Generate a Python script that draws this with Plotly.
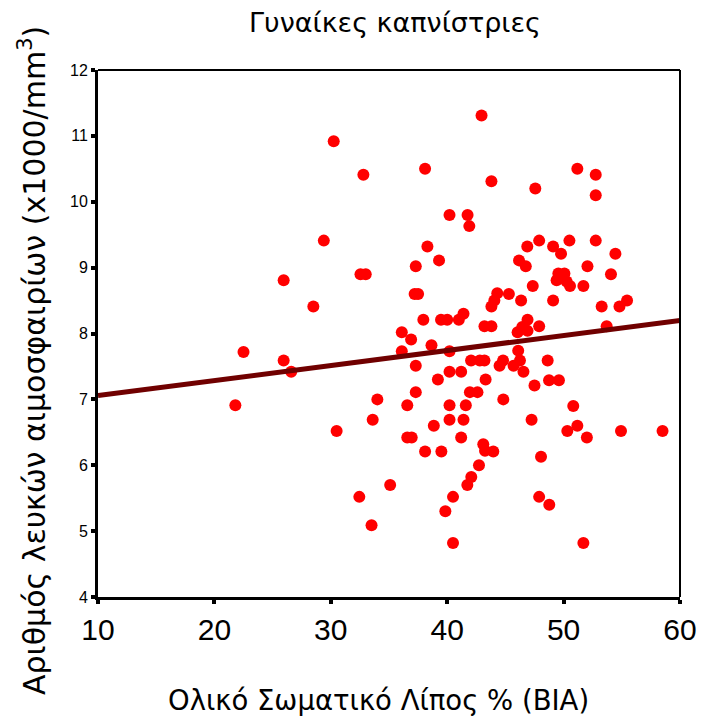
import numpy as np
import plotly.graph_objects as go

# Total body fat % (BIA) for each participant
body_fat = [
    21.8, 22.5, 25.95, 25.95, 26.6, 28.5, 29.4, 30.25, 30.5, 32.55,
    33.0, 32.8, 32.45, 33.5, 33.6, 34.0, 35.1,
    36.1, 36.9, 36.1, 37.3, 37.3, 36.57, 36.57, 36.95, 37.3, 37.2,
    37.5, 37.95, 38.1, 38.3, 38.65, 38.85, 38.1, 39.3, 39.47, 39.5,
    39.2, 39.84, 40.0,
    40.2, 40.2, 40.2, 40.2, 40.2, 40.5, 40.5, 41.0, 41.4, 41.75,
    41.9, 41.2, 41.6, 41.4, 41.2, 41.95, 42.6, 42.05, 42.8, 43.2,
    42.07, 41.73, 42.73, 42.95, 43.2, 43.8, 43.8, 43.8, 44.05, 44.3,
    43.3, 43.1, 43.25, 43.96, 44.8, 44.5, 44.82,
    45.3, 45.7, 46.1, 46.25, 46.55, 46.35, 46.17, 46.75, 46.88, 46.9,
    46.45, 46.9, 46.05, 47.35, 47.57, 47.9, 47.9, 47.5, 47.25, 47.9,
    48.06, 48.63, 48.75, 49.6, 48.77, 49.1, 49.78, 49.55, 49.4, 49.1,
    50.07, 50.26, 50.55, 50.5, 50.83, 50.32, 51.18, 51.18, 51.7, 51.7,
    52.0, 52.05, 52.76, 52.76, 52.76, 53.27, 53.7, 54.07, 54.45, 54.8,
    55.45, 54.93, 58.5,
]

# White blood cell count (x1000/mm3) for the same participants
wbc = [
    6.91, 7.72, 8.81, 7.59, 7.42, 8.41, 9.41, 10.92, 6.52, 8.90,
    8.90, 10.41, 5.52, 5.09, 6.69, 7.00, 5.70,
    8.02, 7.91, 7.73, 7.51, 7.11, 6.91, 6.42, 6.42, 9.02, 8.60,
    8.60, 8.21, 10.50, 9.32, 7.82, 6.60, 6.21, 9.11, 8.21, 6.21,
    7.30, 5.30, 8.21,
    9.80, 7.73, 7.42, 6.91, 6.69, 5.52, 4.82, 8.21, 8.30, 9.80,
    9.63, 7.42, 6.91, 6.69, 6.42, 7.11, 7.11, 7.59, 7.59, 7.59,
    5.82, 5.70, 6.00, 11.31, 8.11, 8.11, 10.31, 8.41, 8.50, 8.61,
    7.30, 6.32, 6.22, 6.21, 7.59, 7.51, 7.00,
    8.60, 7.51, 7.74, 7.59, 7.42, 8.50, 9.11, 9.02, 9.32, 8.21,
    8.10, 8.04, 8.02, 8.72, 10.20, 9.41, 8.11, 7.21, 6.69, 5.52,
    6.13, 7.59, 7.29, 7.29, 5.40, 9.32, 9.21, 8.91, 8.81, 8.50,
    8.91, 8.79, 8.72, 9.41, 6.90, 6.52, 6.60, 10.50, 8.72, 4.82,
    6.42, 9.02, 10.41, 10.10, 9.41, 8.41, 8.11, 8.90, 9.21, 8.41,
    8.50, 6.52, 6.52,
]

# Linear fit line (intercept, slope)
fit_intercept = 6.83
fit_slope = 0.0228

x_ticks = [10, 20, 30, 40, 50, 60]
y_ticks = [4, 5, 6, 7, 8, 9, 10, 11, 12]

title_text = "Γυναίκες καπνίστριες"
x_title = "Ολικό Σωματικό Λίπος % (BIA)"
y_title = "Αριθμός λευκών αιμοσφαιρίων (x1000/mm<sup>3</sup>)"

W, H = 713, 721
fit_x = np.array([x_ticks[0], x_ticks[-1]], dtype=float)
fit_y = fit_intercept + fit_slope * fit_x

fig = go.Figure()
fig.add_trace(go.Scatter(
    x=body_fat, y=wbc, mode="markers",
    marker=dict(size=12, color="#ff0000", line=dict(width=0)),
    showlegend=False, hoverinfo="skip",
))
fig.add_trace(go.Scatter(
    x=fit_x, y=fit_y, mode="lines",
    line=dict(color="#700000", width=5),
    showlegend=False, hoverinfo="skip",
))

# thinner frame on the top and right edges
fig.add_shape(type="line", xref="x domain", yref="y domain",
              x0=0, x1=1, y0=1, y1=1, line=dict(color="black", width=2))
fig.add_shape(type="line", xref="x domain", yref="y domain",
              x0=1, x1=1, y0=0, y1=1, line=dict(color="black", width=2))

title_font = dict(family="DejaVu Sans", size=27, color="black")

# chart title and axis titles placed in pixel terms on the page
fig.add_annotation(text=title_text, xref="paper", yref="paper",
                   x=(395 - 98) / (W - 98 - 33), y=1 + (70 - 22) / (H - 70 - 124),
                   xanchor="center", yanchor="middle", showarrow=False,
                   font=title_font)
fig.add_annotation(text=x_title, xref="paper", yref="paper",
                   x=(378 - 98) / (W - 98 - 33), y=-(700 - (H - 124)) / (H - 70 - 124),
                   xanchor="center", yanchor="middle", showarrow=False,
                   font=dict(family="DejaVu Sans", size=27.5, color="black"))
fig.add_annotation(text=y_title, xref="paper", yref="paper", textangle=-90,
                   x=-(98 - 32) / (W - 98 - 33), y=1 - (361 - 70) / (H - 70 - 124),
                   xanchor="center", yanchor="middle", showarrow=False,
                   font=dict(family="DejaVu Sans", size=30, color="black"))

fig.update_layout(
    width=W, height=H,
    margin=dict(l=98, r=33, t=70, b=124),
    paper_bgcolor="white", plot_bgcolor="white",
    xaxis=dict(
        range=[10, 60], tickvals=x_ticks, ticktext=[str(v) for v in x_ticks],
        showgrid=False, zeroline=False,
        showline=True, linecolor="black", linewidth=3,
        ticks="outside", ticklen=4, tickwidth=4, tickcolor="black",
        tickfont=dict(family="Liberation Sans", size=30, color="black"),
    ),
    yaxis=dict(
        range=[4, 12], tickvals=y_ticks, ticktext=[str(v) for v in y_ticks],
        showgrid=False, zeroline=False,
        showline=True, linecolor="black", linewidth=3,
        ticks="outside", ticklen=4, tickwidth=4, tickcolor="black",
        tickfont=dict(family="Liberation Sans", size=16, color="black"),
    ),
)

fig.write_html("out.html")
